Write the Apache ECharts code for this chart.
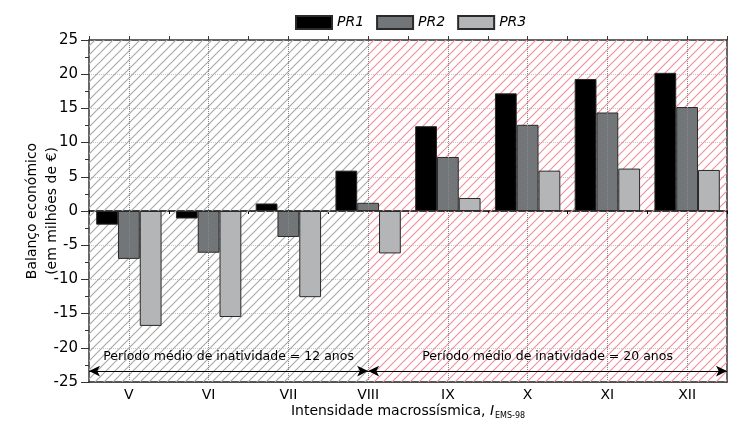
<!DOCTYPE html>
<html><head><meta charset="utf-8">
<script src="https://cdn.jsdelivr.net/npm/echarts@6/dist/echarts.min.js"></script>
<style>html,body{margin:0;padding:0;background:#fff}#c{width:731px;height:431px}</style>
</head><body><div id="c"></div>
<script>
const categories = ['V','VI','VII','VIII','IX','X','XI','XII'];
const seriesNames = ['PR1','PR2','PR3'];
const pr1 = [-2.0,-1.1,1.1,5.9,12.4,17.2,19.3,20.2];
const pr2 = [-7.0,-6.1,-3.8,1.2,7.9,12.6,14.4,15.2];
const pr3 = [-16.8,-15.5,-12.6,-6.2,1.9,5.9,6.2,6.0];
const yMin = -25, yMax = 25, yStep = 5;
const periodSplit = 'VIII';
const periodTexts = ['Período médio de inatividade = 12 anos','Período médio de inatividade = 20 anos'];

const FONT = 'DejaVu Sans';
function hatch(color){
  const s=9, c=document.createElement('canvas'); c.width=s; c.height=s;
  const g=c.getContext('2d'); g.strokeStyle=color; g.lineWidth=1.2; g.beginPath();
  g.moveTo(0,s); g.lineTo(s,0);
  g.moveTo(-s/2,s/2); g.lineTo(s/2,-s/2);
  g.moveTo(s/2,s*1.5); g.lineTo(s*1.5,s/2);
  g.stroke(); return c;
}
const startIdx = -0.5, splitIdx = categories.indexOf(periodSplit), endIdx = categories.length-0.5;
const arrowY = -23.4;
const colors = ['#000000','#737678','#b3b5b6'];
const values = [pr1,pr2,pr3];

const chart = echarts.init(document.getElementById('c'), null, {renderer:'canvas'});
const option = {
  animation:false,
  textStyle:{fontFamily:FONT},
  grid:{left:89,right:4,top:40,bottom:49,containLabel:false,outerBoundsMode:'none'},
  legend:{top:10,left:290,icon:'rect',itemWidth:36,itemHeight:13,itemGap:12,
    textStyle:{fontSize:14,fontStyle:'italic',color:'#000',fontFamily:FONT},data:seriesNames},
  xAxis:[
    {type:'category',data:categories,position:'bottom',
     axisLine:{onZero:false,lineStyle:{color:'#222',width:1.5}},axisTick:{show:false},
     axisLabel:{fontSize:14,color:'#000',margin:6},splitLine:{show:false},
     name:'{a|Intensidade macrossísmica, }{i|I}{s|EMS-98}',nameLocation:'middle',nameGap:21,nameMoveOverlap:false,
     nameTextStyle:{rich:{a:{fontSize:14,color:'#000',fontFamily:FONT},i:{fontSize:14,fontStyle:'italic',color:'#000',fontFamily:FONT},s:{fontSize:8,color:'#000',fontFamily:FONT,padding:[9,0,0,1]}}}},
    {type:'category',data:categories,position:'top',
     axisLine:{onZero:true,lineStyle:{color:'#000',width:1.5}},
     axisTick:{show:true,inside:true,length:3,lineStyle:{color:'#000'}},axisLabel:{show:false},splitLine:{show:false}},
    {type:'value',min:startIdx,max:endIdx,interval:0.5,position:'top',
     axisLine:{show:true,onZero:false,lineStyle:{color:'#333',width:1.5}},
     axisTick:{show:true,length:4,lineStyle:{color:'#333'}},axisLabel:{show:false},splitLine:{show:false}}
  ],
  yAxis:[
    {type:'value',min:yMin,max:yMax,interval:yStep,position:'left',
     axisLine:{show:true,onZero:false,lineStyle:{color:'#333',width:1.5}},
     axisTick:{show:true,length:8,lineStyle:{color:'#333'}},
     minorTick:{show:true,splitNumber:2,length:4,lineStyle:{color:'#333'}},
     axisLabel:{fontSize:15,color:'#000',margin:11},
     splitLine:{show:true,lineStyle:{type:'dotted',color:'#c8c8c8'}},
     name:'Balanço económico\n(em milhões de €)',nameLocation:'middle',nameGap:27,nameMoveOverlap:false,
     nameTextStyle:{fontSize:14,color:'#000',lineHeight:20}},
    {type:'value',min:yMin,max:yMax,interval:yStep,position:'right',
     axisLine:{show:true,onZero:false,lineStyle:{color:'#333',width:1.5}},
     axisTick:{show:false},axisLabel:{show:false},splitLine:{show:false}}
  ],
  series:[
    {type:'line',xAxisIndex:2,yAxisIndex:0,data:[],silent:true,z:1,
     markArea:{silent:true,data:[
       [{xAxis:startIdx,itemStyle:{color:{image:hatch('#a9a9a9'),repeat:'repeat'}}},{xAxis:splitIdx}],
       [{xAxis:splitIdx,itemStyle:{color:{image:hatch('#ee929c'),repeat:'repeat'}}},{xAxis:endIdx}]
     ]},
     markLine:{silent:true,symbol:'none',label:{show:false},
       lineStyle:{type:'dotted',color:'#8a8a8a',width:1},
       data:categories.map((c,i)=>({xAxis:i}))}
    },
    {type:'line',xAxisIndex:2,yAxisIndex:0,data:[],silent:true,z:4,
     markLine:{silent:true,symbol:['arrow','arrow'],symbolSize:[8,11],
       lineStyle:{type:'solid',color:'#000',width:1.2},
       label:{show:true,position:'middle',fontSize:12.5,color:'#000',distance:8,fontFamily:FONT},
       data:[
         [{coord:[startIdx,arrowY],label:{formatter:periodTexts[0]}},{coord:[splitIdx,arrowY]}],
         [{coord:[splitIdx,arrowY],label:{formatter:periodTexts[1]}},{coord:[endIdx,arrowY]}]
       ]}
    }
  ].concat(seriesNames.map((n,k)=>({
    name:n,type:'bar',xAxisIndex:0,yAxisIndex:0,data:values[k],z:3,
    barGap:'0%',barCategoryGap:'18%',
    itemStyle:{color:colors[k],borderColor:'#2a2a2a',borderWidth:1}
  })))
};
chart.setOption(option);
</script></body></html>
